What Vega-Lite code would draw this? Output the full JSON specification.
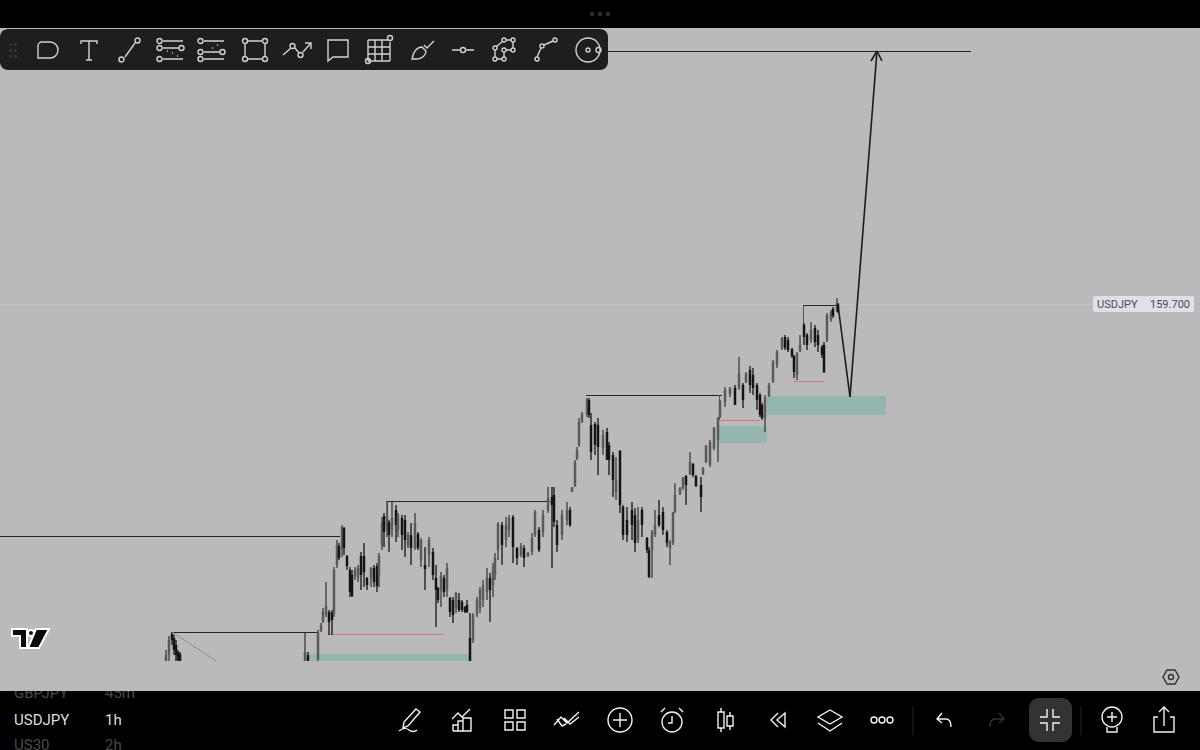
{"$schema":"https://vega.github.io/schema/vega-lite/v6.json","autosize":{"type":"fit","contains":"padding"},"width":1200,"height":750,"padding":0,"background":"#000000","config":{"view":{"stroke":null},"text":{"font":"Roboto"}},
"datasets":{
"pane":[{"t":0,"t2":1200,"p":162.46,"p2":155.83}],
"toolbar":[{"t":0,"t2":608,"p":162.45,"p2":162.04}],
"active":[{"t":1029,"t2":1072,"p":155.76,"p2":155.32}],
"tag":[{"t":1093,"t2":1194,"p":159.78,"p2":159.62}],
"watch":[{"t":14,"p":155.81,"label":"GBPJPY"},{"t":105,"p":155.81,"label":"45m"},{"t":14,"p":155.29,"label":"US30"},{"t":105,"p":155.29,"label":"2h"}],
"symbol":[{"t":14,"p":155.54,"label":"USDJPY"},{"t":105,"p":155.54,"label":"1h"}],
"quote":[{"t":1097,"p":159.695,"label":"USDJPY"},{"t":1150,"p":159.695,"label":"159.700"}],
"zones":[{"t":310,"t2":470,"p":156.2,"p2":156.13},{"t":718,"t2":767,"p":158.48,"p2":158.31},{"t":767,"t2":886,"p":158.78,"p2":158.59}],
"drawings":[
{"t":600,"t2":971,"p":162.225,"p2":162.225,"kind":"level"},
{"t":0,"t2":340,"p":157.375,"p2":157.375,"kind":"level"},
{"t":171,"t2":318,"p":156.415,"p2":156.415,"kind":"level"},
{"t":386,"t2":550,"p":157.725,"p2":157.725,"kind":"level"},
{"t":586,"t2":722,"p":158.785,"p2":158.785,"kind":"level"},
{"t":803,"t2":838,"p":159.685,"p2":159.685,"kind":"level"},
{"t":387.5,"t2":387.5,"p":157.73,"p2":157.57,"kind":"edge"},
{"t":803.5,"t2":803.5,"p":159.69,"p2":159.47,"kind":"edge"},
{"t":719.5,"t2":719.5,"p":158.79,"p2":158.54,"kind":"edge"},
{"t":328,"t2":444,"p":156.395,"p2":156.395,"kind":"sweep"},
{"t":720,"t2":760,"p":158.535,"p2":158.535,"kind":"sweep"},
{"t":794,"t2":824,"p":158.925,"p2":158.925,"kind":"sweep"},
{"t":172,"t2":216,"p":156.42,"p2":156.13,"kind":"trend"},
{"t":0,"t2":1093,"p":159.695,"p2":159.695,"kind":"last"}],
"arrow":[{"t":838,"t2":850,"p":159.69,"p2":158.77},{"t":850,"t2":877,"p":158.77,"p2":162.23},{"t":871,"t2":877,"p":162.13,"p2":162.23},{"t":877,"t2":882,"p":162.23,"p2":162.13}],
"candles":[
{"t":166,"h":156.24,"l":156.13,"o":156.13,"c":156.19},{"t":169,"h":156.38,"l":156.13,"o":156.19,"c":156.34},{"t":172,"h":156.41,"l":156.29,"o":156.4,"c":156.34},{"t":174,"h":156.39,"l":156.19,"o":156.36,"c":156.24},{"t":176,"h":156.34,"l":156.13,"o":156.29,"c":156.19},{"t":178,"h":156.24,"l":156.13,"o":156.22,"c":156.14},{"t":180,"h":156.22,"l":156.13,"o":156.2,"c":156.13},
{"t":305,"h":156.41,"l":156.13,"o":156.13,"c":156.22},{"t":308,"h":156.22,"l":156.13,"o":156.19,"c":156.13},
{"t":318,"h":156.44,"l":156.13,"o":156.15,"c":156.42},{"t":321,"h":156.51,"l":156.42,"o":156.43,"c":156.49},{"t":323,"h":156.66,"l":156.51,"o":156.52,"c":156.62},{"t":326,"h":156.92,"l":156.57,"o":156.59,"c":156.68},{"t":329,"h":156.64,"l":156.39,"o":156.62,"c":156.52},{"t":332,"h":156.64,"l":156.39,"o":156.62,"c":156.54},{"t":334,"h":157.07,"l":156.57,"o":156.6,"c":157.04},{"t":337,"h":157.34,"l":157.06,"o":157.09,"c":157.29},{"t":339,"h":157.31,"l":157.14,"o":157.28,"c":157.16},{"t":342,"h":157.49,"l":157.17,"o":157.24,"c":157.47},{"t":344,"h":157.47,"l":157.19,"o":157.46,"c":157.26},{"t":347,"h":157.19,"l":157.04,"o":157.18,"c":157.08},{"t":350,"h":157.07,"l":156.77,"o":157.04,"c":156.82},{"t":352,"h":157.04,"l":156.77,"o":156.99,"c":156.78},{"t":355,"h":157.07,"l":156.94,"o":156.98,"c":157.04},{"t":358,"h":157.09,"l":156.92,"o":156.96,"c":157.06},{"t":361,"h":157.22,"l":156.84,"o":157.18,"c":156.99},{"t":364,"h":157.31,"l":156.87,"o":157.18,"c":157.02},{"t":367,"h":156.97,"l":156.84,"o":156.96,"c":156.89},{"t":371,"h":157.07,"l":156.87,"o":156.96,"c":157.06},{"t":374,"h":157.09,"l":156.87,"o":157.06,"c":156.92},{"t":377,"h":157.11,"l":156.82,"o":157.08,"c":156.88},{"t":379,"h":157.21,"l":156.87,"o":156.99,"c":157.18},{"t":382,"h":157.57,"l":157.24,"o":157.29,"c":157.52},{"t":384,"h":157.61,"l":157.27,"o":157.58,"c":157.42},{"t":387,"h":157.72,"l":157.37,"o":157.44,"c":157.58},{"t":389,"h":157.54,"l":157.22,"o":157.52,"c":157.39},{"t":392,"h":157.72,"l":157.37,"o":157.44,"c":157.56},{"t":396,"h":157.69,"l":157.32,"o":157.64,"c":157.49},{"t":398,"h":157.61,"l":157.37,"o":157.44,"c":157.59},{"t":402,"h":157.59,"l":157.24,"o":157.56,"c":157.39},{"t":405,"h":157.59,"l":157.17,"o":157.54,"c":157.34},{"t":408,"h":157.42,"l":157.26,"o":157.29,"c":157.39},{"t":411,"h":157.51,"l":157.09,"o":157.39,"c":157.26},{"t":415,"h":157.61,"l":157.24,"o":157.26,"c":157.51},{"t":418,"h":157.42,"l":157.24,"o":157.4,"c":157.26},{"t":421,"h":157.36,"l":157.07,"o":157.14,"c":157.34},{"t":425,"h":157.27,"l":156.84,"o":157.09,"c":157.05},{"t":429,"h":157.37,"l":157.07,"o":157.19,"c":157.34},{"t":433,"h":157.26,"l":156.94,"o":157.22,"c":156.99},{"t":436,"h":157.09,"l":156.47,"o":156.96,"c":156.84},{"t":438,"h":156.87,"l":156.71,"o":156.86,"c":156.74},{"t":441,"h":157.02,"l":156.67,"o":156.84,"c":156.98},{"t":444,"h":156.99,"l":156.77,"o":156.96,"c":156.82},{"t":447,"h":157.11,"l":156.77,"o":156.84,"c":157.06},{"t":450,"h":156.77,"l":156.57,"o":156.76,"c":156.62},{"t":453,"h":156.77,"l":156.51,"o":156.74,"c":156.59},{"t":456,"h":156.82,"l":156.61,"o":156.66,"c":156.81},{"t":459,"h":156.81,"l":156.62,"o":156.74,"c":156.64},{"t":462,"h":156.74,"l":156.62,"o":156.72,"c":156.64},{"t":465,"h":156.68,"l":156.61,"o":156.67,"c":156.62},{"t":467,"h":156.74,"l":156.61,"o":156.69,"c":156.62},{"t":470,"h":156.61,"l":156.13,"o":156.36,"c":156.13},{"t":473,"h":156.61,"l":156.31,"o":156.34,"c":156.59},{"t":477,"h":156.77,"l":156.57,"o":156.6,"c":156.74},{"t":480,"h":156.87,"l":156.61,"o":156.66,"c":156.84},{"t":483,"h":156.94,"l":156.67,"o":156.74,"c":156.89},{"t":487,"h":157.06,"l":156.74,"o":156.82,"c":156.96},{"t":490,"h":157.01,"l":156.52,"o":156.96,"c":156.84},{"t":493,"h":157.11,"l":156.77,"o":156.89,"c":157.04},{"t":495,"h":157.21,"l":156.94,"o":156.99,"c":157.16},{"t":498,"h":157.52,"l":157.14,"o":157.24,"c":157.5},{"t":502,"h":157.52,"l":157.09,"o":157.49,"c":157.29},{"t":506,"h":157.57,"l":157.27,"o":157.34,"c":157.49},{"t":509,"h":157.59,"l":157.37,"o":157.44,"c":157.56},{"t":513,"h":157.59,"l":157.11,"o":157.57,"c":157.27},{"t":517,"h":157.27,"l":157.09,"o":157.26,"c":157.16},{"t":521,"h":157.31,"l":157.17,"o":157.19,"c":157.28},{"t":524,"h":157.29,"l":157.07,"o":157.26,"c":157.16},{"t":528,"h":157.22,"l":157.17,"o":157.18,"c":157.21},{"t":532,"h":157.41,"l":157.19,"o":157.22,"c":157.36},{"t":535,"h":157.64,"l":157.37,"o":157.39,"c":157.62},{"t":539,"h":157.47,"l":157.22,"o":157.44,"c":157.24},{"t":543,"h":157.64,"l":157.37,"o":157.42,"c":157.59},{"t":548,"h":157.87,"l":157.61,"o":157.64,"c":157.76},{"t":552,"h":157.87,"l":157.06,"o":157.77,"c":157.69},{"t":554,"h":157.87,"l":157.47,"o":157.79,"c":157.52},{"t":557,"h":157.54,"l":157.22,"o":157.49,"c":157.29},{"t":562,"h":157.64,"l":157.34,"o":157.39,"c":157.59},{"t":567,"h":157.72,"l":157.49,"o":157.54,"c":157.64},{"t":570,"h":157.67,"l":157.47,"o":157.64,"c":157.49},{"t":572,"h":157.87,"l":157.82,"o":157.82,"c":157.87},{"t":575,"h":158.14,"l":157.87,"o":157.88,"c":158.12},{"t":577,"h":158.27,"l":158.14,"o":158.15,"c":158.24},{"t":579,"h":158.56,"l":158.27,"o":158.29,"c":158.52},{"t":582,"h":158.62,"l":158.51,"o":158.52,"c":158.6},{"t":587,"h":158.76,"l":158.57,"o":158.59,"c":158.75},{"t":589,"h":158.76,"l":158.56,"o":158.74,"c":158.59},{"t":591,"h":158.61,"l":158.14,"o":158.49,"c":158.22},{"t":595,"h":158.52,"l":158.19,"o":158.5,"c":158.29},{"t":598,"h":158.56,"l":157.99,"o":158.49,"c":158.27},{"t":603,"h":158.44,"l":158.19,"o":158.26,"c":158.39},{"t":607,"h":158.46,"l":158.14,"o":158.42,"c":158.14},{"t":609,"h":158.32,"l":157.99,"o":158.29,"c":158.14},{"t":613,"h":158.22,"l":157.77,"o":158.19,"c":157.94},{"t":616,"h":158.17,"l":157.74,"o":157.82,"c":157.94},{"t":620,"h":158.24,"l":157.61,"o":158.23,"c":157.69},{"t":623,"h":157.69,"l":157.34,"o":157.67,"c":157.39},{"t":627,"h":157.67,"l":157.32,"o":157.54,"c":157.39},{"t":632,"h":157.72,"l":157.34,"o":157.64,"c":157.49},{"t":635,"h":157.66,"l":157.22,"o":157.59,"c":157.31},{"t":638,"h":157.67,"l":157.31,"o":157.34,"c":157.54},{"t":642,"h":157.67,"l":157.37,"o":157.64,"c":157.49},{"t":647,"h":157.37,"l":157.21,"o":157.36,"c":157.24},{"t":649,"h":157.27,"l":156.96,"o":157.24,"c":156.97},{"t":652,"h":157.44,"l":156.96,"o":157.24,"c":157.42},{"t":655,"h":157.64,"l":157.37,"o":157.39,"c":157.49},{"t":659,"h":157.74,"l":157.47,"o":157.59,"c":157.49},{"t":663,"h":157.67,"l":157.39,"o":157.62,"c":157.44},{"t":667,"h":157.44,"l":157.27,"o":157.42,"c":157.31},{"t":670,"h":157.34,"l":157.09,"o":157.26,"c":157.32},{"t":673,"h":157.62,"l":157.29,"o":157.31,"c":157.61},{"t":675,"h":157.91,"l":157.61,"o":157.62,"c":157.79},{"t":680,"h":157.87,"l":157.79,"o":157.8,"c":157.86},{"t":683,"h":157.97,"l":157.84,"o":157.86,"c":157.96},{"t":686,"h":157.99,"l":157.69,"o":157.98,"c":157.89},{"t":690,"h":158.22,"l":157.99,"o":158.0,"c":158.12},{"t":693,"h":158.11,"l":157.97,"o":158.1,"c":157.99},{"t":696,"h":157.99,"l":157.87,"o":157.98,"c":157.88},{"t":701,"h":157.97,"l":157.62,"o":157.89,"c":157.77},{"t":703,"h":158.07,"l":157.99,"o":158.0,"c":158.06},{"t":706,"h":158.29,"l":158.11,"o":158.12,"c":158.28},{"t":710,"h":158.34,"l":158.07,"o":158.09,"c":158.32},{"t":714,"h":158.47,"l":158.24,"o":158.26,"c":158.46},{"t":718,"h":158.57,"l":158.12,"o":158.34,"c":158.56},{"t":720,"h":158.74,"l":158.56,"o":158.57,"c":158.73},{"t":725,"h":158.87,"l":158.67,"o":158.72,"c":158.84},{"t":730,"h":158.87,"l":158.77,"o":158.8,"c":158.86},{"t":735,"h":158.89,"l":158.69,"o":158.86,"c":158.69},{"t":739,"h":159.17,"l":158.84,"o":158.86,"c":159.01},{"t":743,"h":158.91,"l":158.66,"o":158.89,"c":158.74},{"t":746,"h":159.02,"l":158.91,"o":158.92,"c":159.0},{"t":750,"h":159.08,"l":158.81,"o":159.04,"c":158.89},{"t":753,"h":159.06,"l":158.79,"o":158.99,"c":158.86},{"t":757,"h":158.91,"l":158.64,"o":158.89,"c":158.74},{"t":760,"h":158.81,"l":158.57,"o":158.79,"c":158.59},{"t":762,"h":158.71,"l":158.54,"o":158.69,"c":158.56},{"t":765,"h":158.79,"l":158.42,"o":158.56,"c":158.76},{"t":769,"h":158.91,"l":158.77,"o":158.78,"c":158.89},{"t":773,"h":159.14,"l":158.91,"o":158.92,"c":159.12},{"t":777,"h":159.24,"l":159.06,"o":159.09,"c":159.22},{"t":782,"h":159.37,"l":159.24,"o":159.26,"c":159.36},{"t":785,"h":159.39,"l":159.24,"o":159.37,"c":159.26},{"t":788,"h":159.37,"l":159.22,"o":159.34,"c":159.24},{"t":792,"h":159.26,"l":159.16,"o":159.25,"c":159.18},{"t":794,"h":159.19,"l":158.96,"o":159.18,"c":159.02},{"t":797,"h":159.22,"l":158.94,"o":158.99,"c":159.21},{"t":800,"h":159.39,"l":159.22,"o":159.23,"c":159.29},{"t":804,"h":159.51,"l":159.29,"o":159.49,"c":159.37},{"t":807,"h":159.41,"l":159.24,"o":159.39,"c":159.29},{"t":811,"h":159.52,"l":159.31,"o":159.34,"c":159.44},{"t":815,"h":159.49,"l":159.27,"o":159.46,"c":159.32},{"t":818,"h":159.44,"l":159.22,"o":159.39,"c":159.29},{"t":822,"h":159.29,"l":159.16,"o":159.27,"c":159.19},{"t":824,"h":159.32,"l":159.01,"o":159.29,"c":159.02},{"t":827,"h":159.61,"l":159.32,"o":159.34,"c":159.59},{"t":831,"h":159.64,"l":159.52,"o":159.54,"c":159.62},{"t":833,"h":159.67,"l":159.56,"o":159.65,"c":159.58},{"t":837,"h":159.76,"l":159.62,"o":159.64,"c":159.7},{"t":838,"h":159.71,"l":159.61,"o":159.7,"c":159.62}],
"rules":[{"t":913,"t2":913,"p":155.67,"p2":155.39},{"t":1081,"t2":1081,"p":155.67,"p2":155.39}],
"logo":[{"t":30,"p":156.36}],
"icons":[
{"t":600,"p":162.6,"icon":"dots3","tone":"grab"},
{"t":13,"p":162.24,"icon":"grip","tone":"grab"},
{"t":48,"p":162.24,"icon":"blob","tone":"tool"},{"t":89,"p":162.24,"icon":"text","tone":"tool"},{"t":130,"p":162.24,"icon":"trend","tone":"tool"},{"t":171,"p":162.24,"icon":"fib","tone":"tool"},{"t":212,"p":162.24,"icon":"fib2","tone":"tool"},{"t":255,"p":162.24,"icon":"rect","tone":"tool"},{"t":297,"p":162.24,"icon":"zig","tone":"tool"},{"t":338,"p":162.24,"icon":"note","tone":"tool"},{"t":379,"p":162.24,"icon":"grid","tone":"tool"},{"t":423,"p":162.24,"icon":"brush","tone":"tool"},{"t":463,"p":162.24,"icon":"hline","tone":"tool"},{"t":505,"p":162.24,"icon":"net","tone":"tool"},{"t":546,"p":162.24,"icon":"curve","tone":"tool"},{"t":588,"p":162.24,"icon":"disc","tone":"tool"},
{"t":411,"p":155.54,"icon":"pen","tone":"nav"},{"t":462,"p":155.54,"icon":"bars","tone":"nav"},{"t":515,"p":155.54,"icon":"four","tone":"nav"},{"t":567,"p":155.54,"icon":"chev","tone":"nav"},{"t":620,"p":155.54,"icon":"plus","tone":"nav"},{"t":672,"p":155.54,"icon":"alarm","tone":"nav"},{"t":725,"p":155.54,"icon":"candle","tone":"nav"},{"t":778,"p":155.54,"icon":"rewind","tone":"nav"},{"t":830,"p":155.54,"icon":"layers","tone":"nav"},{"t":882,"p":155.54,"icon":"more","tone":"nav"},{"t":944,"p":155.54,"icon":"undo","tone":"nav"},{"t":997,"p":155.54,"icon":"redo","tone":"off"},{"t":1050,"p":155.54,"icon":"shrink","tone":"nav"},{"t":1112,"p":155.54,"icon":"bulb","tone":"nav"},{"t":1164,"p":155.54,"icon":"share","tone":"nav"},
{"t":1171,"p":155.97,"icon":"hex","tone":"pane"}]
},
"encoding":{"x":{"field":"t","type":"quantitative","scale":{"domain":[0,1200]},"axis":null},"y":{"field":"p","type":"quantitative","scale":{"domain":[155.24,162.74]},"axis":null}},
"layer":[
{"data":{"name":"watch"},"mark":{"type":"text","align":"left","baseline":"middle","fontSize":15,"color":"#4a4a4a","clip":true,"font":"Roboto"},"encoding":{"text":{"field":"label"}}},
{"data":{"name":"pane"},"mark":{"type":"rect","color":"#bababa"},"encoding":{"x2":{"field":"t2"},"y2":{"field":"p2"}}},
{"data":{"name":"zones"},"mark":{"type":"rect","color":"#95b6ae"},"encoding":{"x2":{"field":"t2"},"y2":{"field":"p2"}}},
{"data":{"name":"drawings"},"mark":{"type":"rule","strokeWidth":1,"clip":true},"encoding":{"x2":{"field":"t2"},"y2":{"field":"p2"},"color":{"field":"kind","type":"nominal","legend":null,"scale":{"domain":["level","edge","sweep","trend","last"],"range":["#262626","#555555","#d0788a","#8f8f8f","#c2c2c2"]}}}},
{"data":{"name":"candles"},"mark":{"type":"rule","strokeWidth":1.3},"encoding":{"y":{"field":"h","type":"quantitative","scale":{"domain":[155.24,162.74]},"axis":null},"y2":{"field":"l"},"color":{"condition":{"test":"datum.c>=datum.o","value":"#3c3c3c"},"value":"#141414"}}},
{"data":{"name":"candles"},"mark":{"type":"rule","strokeWidth":2.5},"encoding":{"y":{"field":"o","type":"quantitative","scale":{"domain":[155.24,162.74]},"axis":null},"y2":{"field":"c"},"color":{"condition":{"test":"datum.c>=datum.o","value":"#5a5a5a"},"value":"#141414"}}},
{"data":{"name":"arrow"},"mark":{"type":"rule","strokeWidth":1.6,"color":"#1c1c1c"},"encoding":{"x2":{"field":"t2"},"y2":{"field":"p2"}}},
{"data":{"name":"logo"},"mark":{"type":"point","filled":true,"size":4,"fill":"#0a0a0a","stroke":"#ffffff","strokeWidth":2,"opacity":1,"shape":"M-18,-9H-3V10H-10V-2H-18ZM-2,-5a3,3 0 1,0 6,0a3,3 0 1,0 -6,0ZM6,-9H19L9,10H-2Z"}},
{"data":{"name":"toolbar"},"mark":{"type":"rect","color":"#1e1e1e","cornerRadius":8},"encoding":{"x2":{"field":"t2"},"y2":{"field":"p2"}}},
{"data":{"name":"active"},"mark":{"type":"rect","color":"#333333","cornerRadius":10},"encoding":{"x2":{"field":"t2"},"y2":{"field":"p2"}}},
{"data":{"name":"rules"},"mark":{"type":"rule","color":"#262626","strokeWidth":1},"encoding":{"x2":{"field":"t2"},"y2":{"field":"p2"}}},
{"data":{"name":"tag"},"mark":{"type":"rect","color":"#dfe0e8","cornerRadius":2},"encoding":{"x2":{"field":"t2"},"y2":{"field":"p2"}}},
{"data":{"name":"quote"},"mark":{"type":"text","align":"left","baseline":"middle","fontSize":11,"color":"#4a4a50","font":"Roboto"},"encoding":{"text":{"field":"label"}}},
{"data":{"name":"symbol"},"mark":{"type":"text","align":"left","baseline":"middle","fontSize":15,"color":"#dddddd","font":"Roboto"},"encoding":{"text":{"field":"label"}}},
{"data":{"name":"icons"},"mark":{"type":"point","filled":false,"size":4,"strokeWidth":1.4,"opacity":1},"encoding":{
"stroke":{"field":"tone","type":"nominal","legend":null,"scale":{"domain":["tool","nav","off","pane","grab"],"range":["#d2d2d2","#f2f2f2","#333333","#333333","#3a3a3a"]}},
"shape":{"field":"icon","type":"nominal","legend":null,"scale":{
"domain":["dots3","grip","blob","text","trend","fib","fib2","rect","zig","note","grid","brush","hline","net","curve","disc","pen","bars","four","chev","plus","alarm","candle","rewind","layers","more","undo","redo","shrink","bulb","share","hex"],
"range":[
"M-9,-1H-7V1H-9ZM-1,-1H1V1H-1ZM7,-1H9V1H7Z",
"M-3,-6H-2V-5H-3ZM2,-6H3V-5H2ZM-3,0H-2V1H-3ZM2,0H3V1H2ZM-3,6H-2V7H-3ZM2,6H3V7H2Z",
"M-6,-8H2a8,8 0 0 1 0,16H-10V-4a4,4 0 0 1 4,-4Z",
"M-8,-6V-9H8V-6M0,-9V10M-3,10H3",
"M-5,7L5,-7M-11,9.5a2.5,2.5 0 1,0 5,0a2.5,2.5 0 1,0 -5,0M5,-9.5a2.5,2.5 0 1,0 5,0a2.5,2.5 0 1,0 -5,0",
"M-8,-9H12M-8,-2H8M-8,9H12M-14,-9a2.5,2.5 0 1,0 5,0a2.5,2.5 0 1,0 -5,0M-14,-2a2.5,2.5 0 1,0 5,0a2.5,2.5 0 1,0 -5,0M8,-2a2.5,2.5 0 1,0 5,0a2.5,2.5 0 1,0 -5,0M-14,9a2.5,2.5 0 1,0 5,0a2.5,2.5 0 1,0 -5,0M-4,1H-3M1,3H2M6,6H7",
"M-8,-9H12M-8,2H8M-8,9H12M-14,-9a2.5,2.5 0 1,0 5,0a2.5,2.5 0 1,0 -5,0M-14,2a2.5,2.5 0 1,0 5,0a2.5,2.5 0 1,0 -5,0M8,2a2.5,2.5 0 1,0 5,0a2.5,2.5 0 1,0 -5,0M-14,9a2.5,2.5 0 1,0 5,0a2.5,2.5 0 1,0 -5,0M0,-2H1M5,-5H6",
"M-7,-9H7M-7,9H7M-10,-6V6M10,-6V6M-12.5,-9a2.5,2.5 0 1,0 5,0a2.5,2.5 0 1,0 -5,0M7.5,-9a2.5,2.5 0 1,0 5,0a2.5,2.5 0 1,0 -5,0M-12.5,9a2.5,2.5 0 1,0 5,0a2.5,2.5 0 1,0 -5,0M7.5,9a2.5,2.5 0 1,0 5,0a2.5,2.5 0 1,0 -5,0",
"M-14,5L-6,-2M-2,-2L2,3M6,2L14,-7M8,-7H14V-1M-7,-4a2.5,2.5 0 1,0 5,0a2.5,2.5 0 1,0 -5,0M1,5a2.5,2.5 0 1,0 5,0a2.5,2.5 0 1,0 -5,0",
"M-10,-10H10V7H-5L-10,11Z",
"M-11,-10H9M-11,-3H11M-11,4H11M-11,11H11M-11,-10V11M-4,-10V11M3,-10V11M11,-8V11M8.5,-12a2.5,2.5 0 1,0 5,0a2.5,2.5 0 1,0 -5,0M-13.5,11a2.5,2.5 0 1,0 5,0a2.5,2.5 0 1,0 -5,0",
"M-11,9C-10,2 -6,-3 -1,-3L3,1C3,5 -1,9 -6,9ZM1,-5L4,-2L11,-9",
"M-11,0H-3M3,0H11M-2.5,0a2.5,2.5 0 1,0 5,0a2.5,2.5 0 1,0 -5,0",
"M-8.5,-3.5L-2.5,-8.5M1,-10H6M8,-8V-2M6,0H1M-1,2V7M-10,0V7M-8,9H-3M-12,-2a2,2 0 1,0 4,0a2,2 0 1,0 -4,0M-3,-10a2,2 0 1,0 4,0a2,2 0 1,0 -4,0M6,-10a2,2 0 1,0 4,0a2,2 0 1,0 -4,0M6,0a2,2 0 1,0 4,0a2,2 0 1,0 -4,0M-3,0a2,2 0 1,0 4,0a2,2 0 1,0 -4,0M-12,9a2,2 0 1,0 4,0a2,2 0 1,0 -4,0M-3,9a2,2 0 1,0 4,0a2,2 0 1,0 -4,0",
"M-9,7L-5,-2M-2,-5L7,-9M-11,9a2,2 0 1,0 4,0a2,2 0 1,0 -4,0M-6,-4a2,2 0 1,0 4,0a2,2 0 1,0 -4,0M7,-10a2,2 0 1,0 4,0a2,2 0 1,0 -4,0",
"M-12,0a12,12 0 1,0 24,0a12,12 0 1,0 -24,0M-2,0a2,2 0 1,0 4,0a2,2 0 1,0 -4,0M8,0a2.5,2.5 0 1,0 5,0a2.5,2.5 0 1,0 -5,0",
"M5,-11L9,-8L-3,6L-8,8L-7,2ZM-12,11C-8,8 -4,8 -2,10C0,12 4,12 6,10",
"M-9,11V5H-4V11M-4,11V1H1V11M1,11V-2H9V11H-9M-10,-1L-4,-7L0,-3L8,-11",
"M-10,-10H-2V-2H-10ZM2,-10H10V-2H2ZM-10,2H-2V10H-10ZM2,2H10V10H2Z",
"M-13,5L-6,-3L0,3L12,-8M-10,-1L-5,6L-1,4M-3,-2L3,4L12,-3",
"M-12,0a12,12 0 1,0 24,0a12,12 0 1,0 -24,0M-7,0H7M0,-7V7",
"M-10,2a10,10 0 1,0 20,0a10,10 0 1,0 -20,0M0,-4V3H-4M-11,-8L-7,-12M11,-8L7,-12",
"M-4,-12V-8M-4,8V12M-7,-8H-1V8H-7ZM5,-8V-4M5,6V10M2,-4H8V6H2Z",
"M0,-7L-7,0L0,7M7,-7L-1,0L7,7Z",
"M0,-10L12,-3L0,4L-12,-3ZM-12,3L0,11L12,3",
"M-11,0a3,3 0 1,0 6,0a3,3 0 1,0 -6,0M-3,0a3,3 0 1,0 6,0a3,3 0 1,0 -6,0M5,0a3,3 0 1,0 6,0a3,3 0 1,0 -6,0",
"M-2,-7L-7,-1L-2,3M-7,-1H2C6,-1 7,3 7,7",
"M2,-7L7,-1L2,3M7,-1H-2C-6,-1 -7,3 -7,7",
"M-3,-11V-3H-10M3,-11V-3H10M-3,11V3H-10M3,11V3H10",
"M-10,-3a10,10 0 1,0 20,0a10,10 0 1,0 -20,0M-5,-3H5M0,-8V2M-5,7V12H5V7",
"M-6,-3H-10V12H10V-3H6M0,6V-13M-5,-8L0,-13L5,-8",
"M-4,-7H4L8,0L4,7H-4L-8,0ZM-2.5,0a2.5,2.5 0 1,0 5,0a2.5,2.5 0 1,0 -5,0"
]}}}}
]}
